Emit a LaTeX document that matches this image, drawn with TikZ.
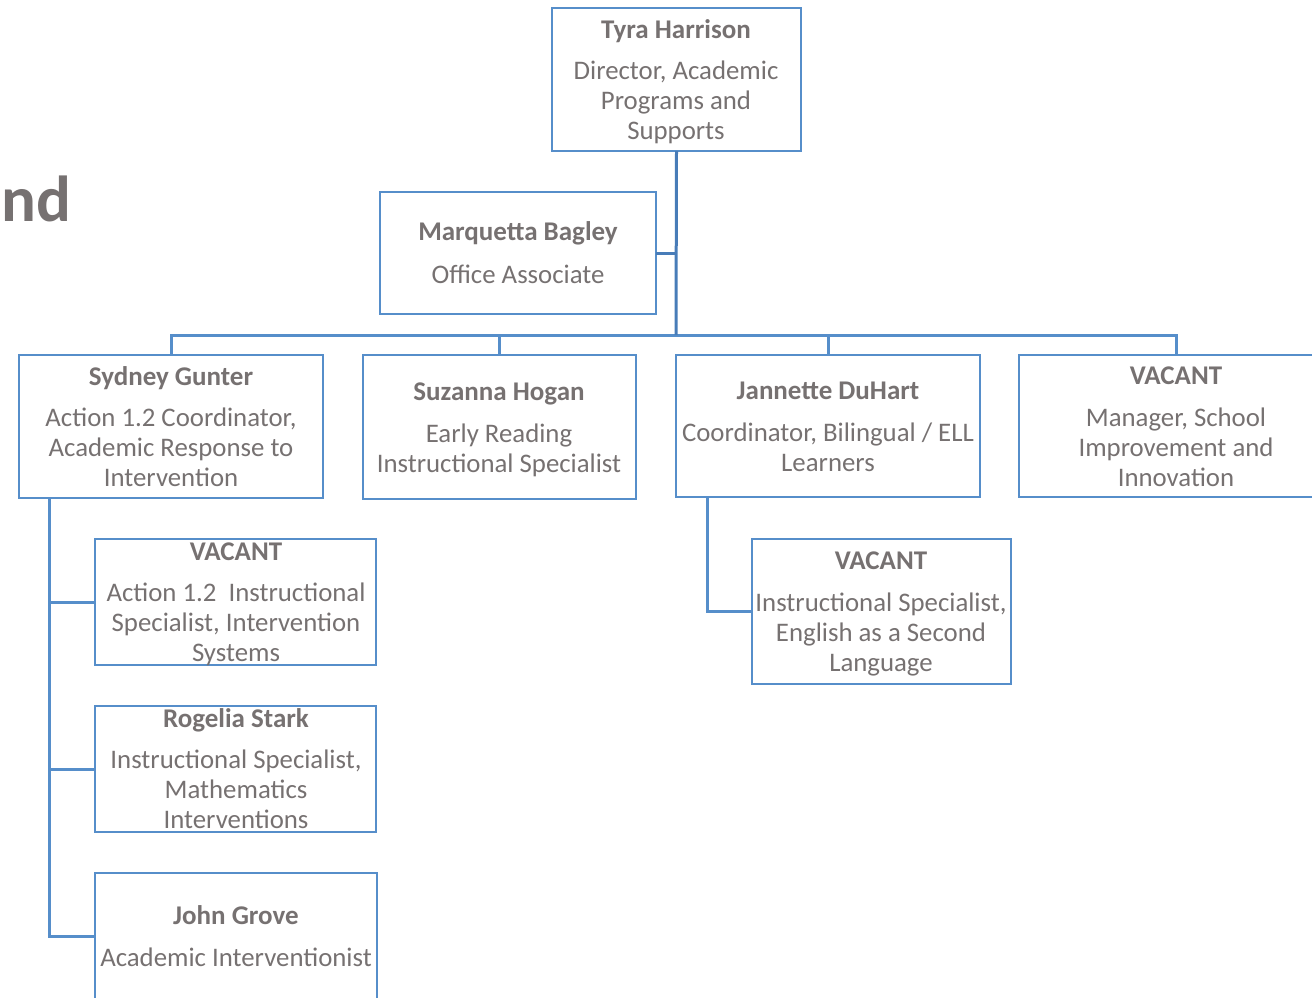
\documentclass[tikz,border=0pt]{standalone}
\usepackage{fontspec}
\setmainfont{Carlito}
\definecolor{bl}{RGB}{86,142,202}
\definecolor{bld}{RGB}{72,124,184}
\definecolor{tx}{RGB}{118,113,113}
\begin{document}
\begin{tikzpicture}[x=1pt,y=-1pt,
  box/.style={draw=bl, line width=2.8pt, rectangle, inner sep=0pt, outer sep=0pt},
  nm/.style={text=tx, font=\fontsize{27}{29.6}\selectfont\bfseries, inner sep=0pt, anchor=base},
  ttl/.style={text=tx, font=\fontsize{26.8}{29.6}\selectfont, align=center, inner sep=0pt, anchor=base},
  conn/.style={draw=bl, line width=3pt},
  trunk/.style={draw=bld, line width=3pt}]
\clip (0,0) rectangle (1312,997);
\useasboundingbox (0,0) rectangle (1312,997);
% title fragment
\node[anchor=base west, text=tx, font=\fontsize{65}{70}\selectfont\bfseries, inner sep=0pt] (title) at (1,221) {nd};
% boxes
\node[box, minimum width=249, minimum height=143] (tyra) at (676.5,79.5) {};
\node[box, minimum width=276, minimum height=122] (marq) at (518,253) {};
\node[box, minimum width=304, minimum height=143] (syd) at (171,426.5) {};
\node[box, minimum width=273, minimum height=144] (suz) at (499.5,427) {};
\node[box, minimum width=304, minimum height=142] (jan) at (828,426) {};
\node[box, minimum width=314, minimum height=142] (vmgr) at (1176,426) {};
\node[box, minimum width=281, minimum height=126] (vact) at (235.5,602) {};
\node[box, minimum width=281, minimum height=126] (rog) at (235.5,769) {};
\node[box, minimum width=282, minimum height=126] (john) at (236,936) {};
\node[box, minimum width=259, minimum height=145] (vesl) at (881.5,611.5) {};
% texts (title nodes are placed by the baseline of their last line)
\node[nm] (tyraN) at (676,38) {Tyra Harrison};
\node[ttl] (tyraT) at (676,139) {Director, Academic\\Programs and\\Supports};
\node[nm] (marqN) at (518,240) {Marquetta Bagley};
\node[ttl] (marqT) at (518,283) {Office Associate};
\node[nm] (sydN) at (171,385) {Sydney Gunter};
\node[ttl] (sydT) at (171,486) {Action 1.2 Coordinator,\\Academic Response to\\Intervention};
\node[nm] (suzN) at (499,400) {Suzanna Hogan};
\node[ttl] (suzT) at (499,472) {Early Reading\\Instructional Specialist};
\node[nm] (janN) at (828,399) {Jannette DuHart};
\node[ttl] (janT) at (828,471) {Coordinator, Bilingual / ELL\\Learners};
\node[nm] (vmgrN) at (1176,384) {VACANT};
\node[ttl] (vmgrT) at (1176,486) {Manager, School\\Improvement and\\Innovation};
\node[nm] (vactN) at (236,560) {VACANT};
\node[ttl] (vactT) at (236,661) {Action 1.2\ \ Instructional\\Specialist, Intervention\\Systems};
\node[nm] (rogN) at (236,727) {Rogelia Stark};
\node[ttl] (rogT) at (236,828) {Instructional Specialist,\\Mathematics\\Interventions};
\node[nm] (johnN) at (236,924) {John Grove};
\node[ttl] (johnT) at (236,966) {Academic Interventionist};
\node[nm] (veslN) at (881,569) {VACANT};
\node[ttl] (veslT) at (881,671) {Instructional Specialist,\\English as a Second\\Language};
% connectors
\coordinate (bus) at (676,335);
\coordinate (sydL) at (49,498);
\coordinate (janL) at (707,497);
\draw[conn] (syd.north) -- (syd.north |- bus) -- (vmgr.north |- bus) -- (vmgr.north);
\draw[conn] (suz.north) -- (suz.north |- bus);
\draw[conn] (jan.north) -- (jan.north |- bus);
\draw[trunk] (marq.east) -- (marq.east -| tyra.south);
\draw[trunk] (tyra.south) -- (bus);
\draw[conn] (sydL) |- (john.west);
\draw[conn] (sydL |- vact.west) -- (vact.west);
\draw[conn] (sydL |- rog.west) -- (rog.west);
\draw[conn] (janL) |- (vesl.west);
\end{tikzpicture}
\end{document}
